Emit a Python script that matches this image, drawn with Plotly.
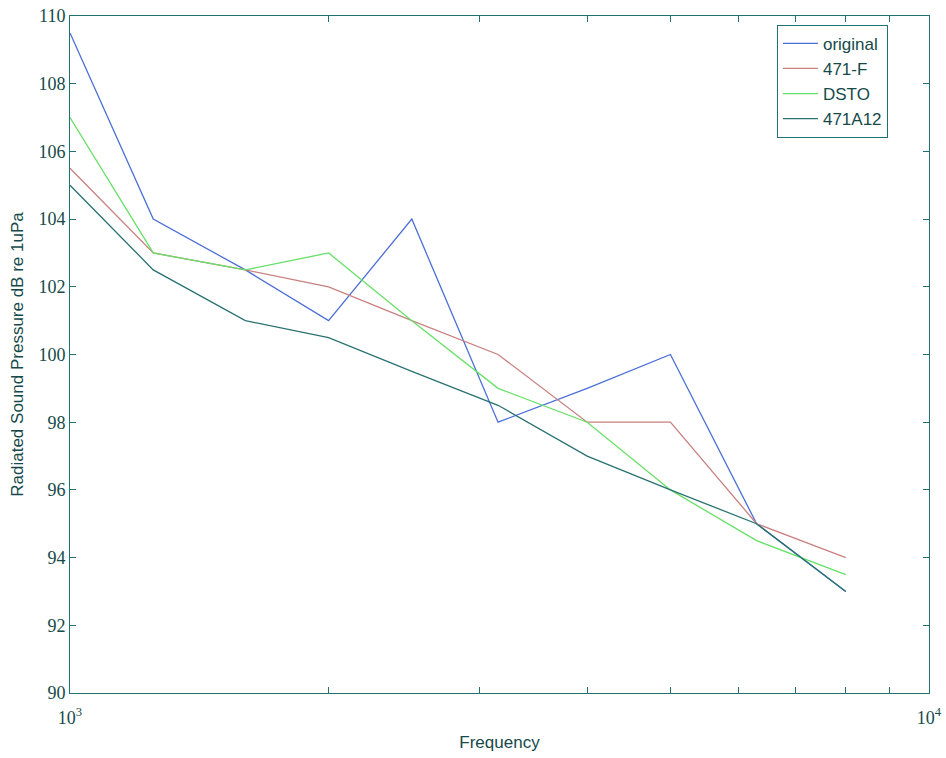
import plotly.graph_objects as go

freq = [1000, 1250, 1600, 2000, 2500, 3150, 4000, 5000, 6300, 8000]
original = [109.5, 104.0, 102.5, 101.0, 104.0, 98.0, 99.0, 100.0, 95.0, 93.0]
f471 = [105.5, 103.0, 102.5, 102.0, 101.0, 100.0, 98.0, 98.0, 95.0, 94.0]
dsto = [107.0, 103.0, 102.5, 103.0, 101.0, 99.0, 98.0, 96.0, 94.5, 93.5]
a12 = [105.0, 102.5, 101.0, 100.5, 99.5, 98.5, 97.0, 96.0, 95.0, 93.0]

names = ["original", "471-F", "DSTO", "471A12"]
series = [original, f471, dsto, a12]
colors = ["#4a6fd6", "#c98080", "#66e066", "#2a7272"]

xtickvals = [1000, 10000]
xticktext = ["10<sup>3</sup>", "10<sup>4</sup>"]
xminorvals = [2000, 3000, 4000, 5000, 6000, 7000, 8000, 9000]
ytickvals = [90, 92, 94, 96, 98, 100, 102, 104, 106, 108, 110]

axis_col = "#207272"
text_col = "#164a4a"

fig = go.Figure()
for n, s, c in zip(names, series, colors):
    fig.add_trace(go.Scatter(x=freq, y=s, name=n, mode="lines",
                             line=dict(color=c, width=1.3)))

fig.update_layout(
    width=946, height=758,
    margin=dict(l=70, r=17, t=16, b=65),
    plot_bgcolor="white", paper_bgcolor="white",
    font=dict(family="Liberation Sans, Arial", color=text_col),
    legend=dict(x=0.823, y=0.987, xanchor="left", yanchor="top",
                bordercolor=axis_col, borderwidth=1, bgcolor="white",
                font=dict(size=17, family="Liberation Sans, Arial", color=text_col),
                itemwidth=35, tracegroupgap=0),
    xaxis=dict(type="log", range=[3, 4], tickvals=xtickvals, ticktext=xticktext,
               ticks="inside", ticklen=6, tickcolor=axis_col,
               minor=dict(tickvals=xminorvals, ticks="inside", ticklen=6, tickcolor=axis_col, showgrid=False),
               showline=True, linecolor=axis_col, linewidth=1, mirror="allticks",
               showgrid=False, zeroline=False, automargin=False, ticklabelstandoff=8,
               tickfont=dict(family="Liberation Serif, Times New Roman", size=18, color=text_col),
               title=dict(text="Frequency", font=dict(size=17, color=text_col), standoff=9)),
    yaxis=dict(range=[90, 110], tickvals=ytickvals,
               ticks="inside", ticklen=6, tickcolor=axis_col,
               showline=True, linecolor=axis_col, linewidth=1, mirror="allticks",
               showgrid=False, zeroline=False, automargin=False,
               tickfont=dict(family="Liberation Serif, Times New Roman", size=18, color=text_col),
               title=dict(text="Radiated Sound Pressure dB re 1uPa", font=dict(size=17, color=text_col), standoff=10)),
)

fig.write_html("out.html", config={"displayModeBar": False},
               post_script="document.body.style.margin='0';")
